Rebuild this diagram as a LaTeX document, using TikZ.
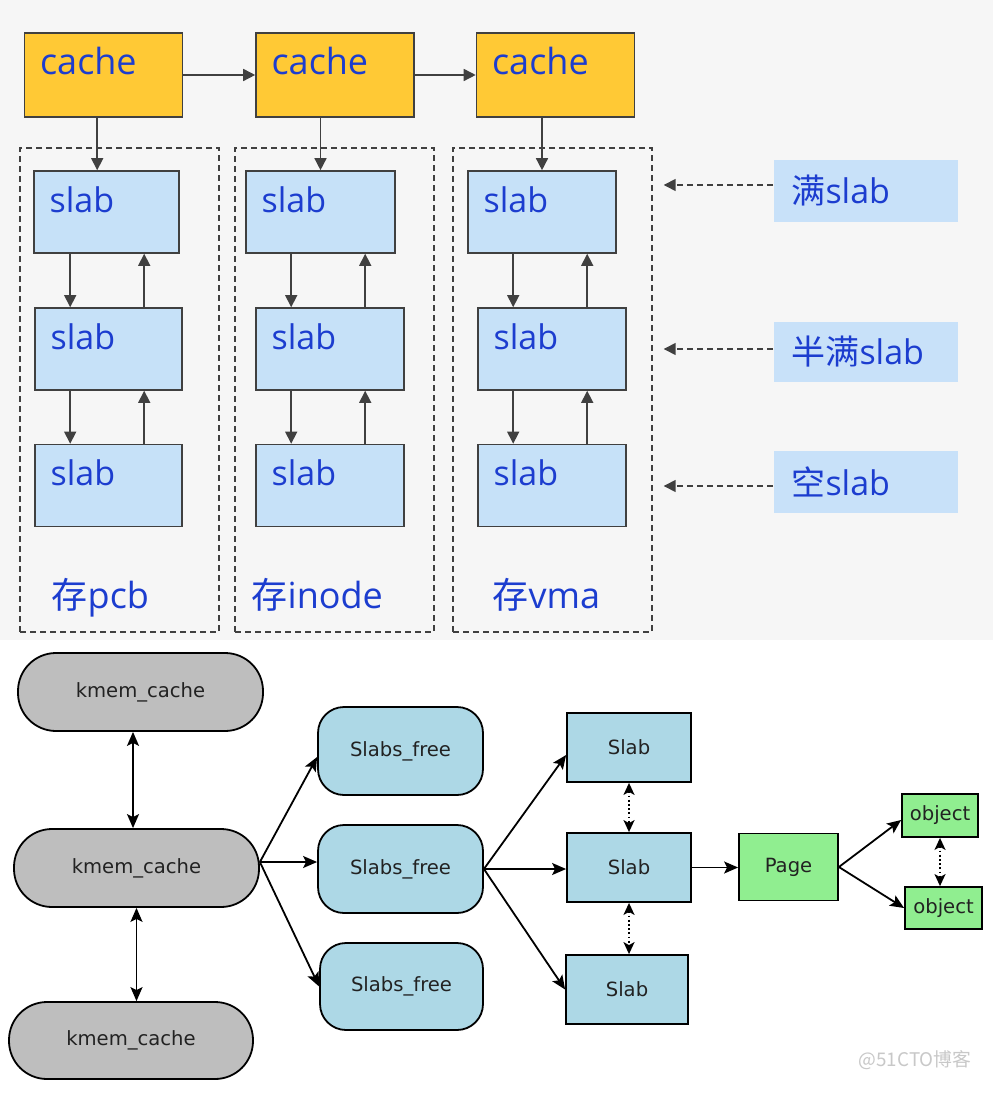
\documentclass[tikz,border=0pt]{standalone}
\usepackage{fontspec}
\setmainfont{Open Sans}
\newfontfamily\cjk{Noto Sans CJK SC}
\newfontfamily\gvf{DejaVu Sans}
\usetikzlibrary{arrows.meta,calc}
\definecolor{cachefill}{HTML}{FFC935}
\definecolor{slabfill}{HTML}{C6E1F8}
\definecolor{tagfill}{HTML}{C8E1F9}
\definecolor{bord}{HTML}{404040}
\definecolor{tblue}{HTML}{1C3DCF}
\definecolor{topbg}{HTML}{F6F6F6}
\definecolor{kfill}{HTML}{BEBEBE}
\definecolor{lblue}{HTML}{ADD8E6}
\definecolor{lgreen}{HTML}{90EE90}
\definecolor{gtext}{HTML}{222222}
\definecolor{wm}{HTML}{C8C8C8}
\newcommand{\bigtxt}{\fontsize{18pt}{21pt}\selectfont}
\newcommand{\slabtxt}{\fontsize{17pt}{20pt}\selectfont}
\newcommand{\gvtxt}{\gvf\fontsize{9.8pt}{11pt}\selectfont}
\begin{document}
\begin{tikzpicture}[x=0.5pt,y=-0.5pt,
  cachebox/.style={draw=bord, line width=0.8pt, fill=cachefill, minimum width=79pt, minimum height=42pt, inner sep=0pt},
  slabbox/.style={draw=bord, line width=0.8pt, fill=slabfill, minimum height=41pt, inner sep=0pt},
  grp/.style={draw=bord, dash pattern=on 3pt off 2pt, line width=0.7pt, inner sep=0pt, minimum width=99.5pt, minimum height=242pt},
  tagbox/.style={fill=tagfill, minimum height=31pt, text width=74pt, align=left, inner xsep=9pt, inner ysep=0pt, font=\slabtxt, text=tblue},
  ctext/.style={anchor=north west, inner sep=0pt, xshift=8pt, yshift=-7.5pt, font=\bigtxt, text=tblue},
  stext/.style={anchor=north west, inner sep=0pt, xshift=8pt, yshift=-8pt, font=\slabtxt, text=tblue},
  toparr/.style={-{Triangle[length=6pt,width=6pt]}, line width=0.75pt, draw=bord},
  dasharr/.style={toparr, dash pattern=on 3pt off 2pt},
  kmem/.style={draw=black, line width=0.9pt, fill=kfill, rounded corners=19pt, minimum width=122.5pt, minimum height=39pt, inner sep=0pt, font=\gvtxt, text=gtext},
  freebox/.style={draw=black, line width=0.9pt, fill=lblue, rounded corners=13pt, minimum width=82.5pt, minimum height=44pt, inner sep=0pt, font=\gvtxt, text=gtext},
  slb/.style={draw=black, line width=0.9pt, fill=lblue, minimum width=62pt, minimum height=34.5pt, inner sep=0pt, font=\gvtxt, text=gtext},
  grn/.style={draw=black, line width=0.9pt, fill=lgreen, inner sep=0pt, font=\gvtxt, text=gtext},
  barr/.style={-{Stealth[length=7pt,width=6pt,inset=1.5pt]}, line width=0.9pt},
  dbl/.style={{Stealth[length=7pt,width=6pt,inset=1.5pt]}-{Stealth[length=7pt,width=6pt,inset=1.5pt]}, line width=0.9pt},
  dotdbl/.style={{Stealth[length=6pt,width=5.5pt,inset=1.5pt]}-{Stealth[length=6pt,width=5.5pt,inset=1.5pt]}, line width=0.9pt, dash pattern=on 0.9pt off 1.2pt}
]
\useasboundingbox (0,0) rectangle (993,1095);
\fill[white] (0,0) rectangle (993,1095);
\fill[topbg] (0,0) rectangle (993,640);

% ---------- top part ----------
\node[cachebox, label={[ctext]north west:cache}] (c1) at (103.5,75) {};
\node[cachebox, label={[ctext]north west:cache}] (c2) at (335,75) {};
\node[cachebox, label={[ctext]north west:cache}] (c3) at (555.5,75) {};

\node[grp, label={[anchor=base west, inner sep=0pt, xshift=16pt, yshift=12pt, font=\bigtxt, text=tblue]south west:{\cjk 存}pcb}] (g1) at (119.5,390) {};
\node[grp, label={[anchor=base west, inner sep=0pt, xshift=8.5pt, yshift=12pt, font=\bigtxt, text=tblue]south west:{\cjk 存}inode}] (g2) at (334.5,390) {};
\node[grp, label={[anchor=base west, inner sep=0pt, xshift=20pt, yshift=12pt, font=\bigtxt, text=tblue]south west:{\cjk 存}vma}] (g3) at (552.5,390) {};

\node[slabbox, minimum width=72.5pt, label={[stext]north west:slab}] (a1) at (106.5,212) {};
\node[slabbox, minimum width=73.5pt, label={[stext]north west:slab}] (a2) at (108.5,349) {};
\node[slabbox, minimum width=73.5pt, label={[stext]north west:slab}] (a3) at (108.5,485.5) {};
\node[slabbox, minimum width=74.5pt, label={[stext]north west:slab}] (b1) at (320.5,212) {};
\node[slabbox, minimum width=74pt, label={[stext]north west:slab}] (b2) at (330,349) {};
\node[slabbox, minimum width=74pt, label={[stext]north west:slab}] (b3) at (330,485.5) {};
\node[slabbox, minimum width=74pt, label={[stext]north west:slab}] (e1) at (542,212) {};
\node[slabbox, minimum width=74pt, label={[stext]north west:slab}] (e2) at (552,349) {};
\node[slabbox, minimum width=74pt, label={[stext]north west:slab}] (e3) at (552,485.5) {};

\node[tagbox] (t1) at (865.5,191) {{\cjk 满}slab};
\node[tagbox, minimum height=30pt] (t2) at (865.5,352) {{\cjk 半满}slab};
\node[tagbox] (t3) at (865.5,482) {{\cjk 空}slab};

% cache chain
\draw[toparr] (c1.east) -- (c2.west);
\draw[toparr] (c2.east) -- (c3.west);
% cache -> first slab
\coordinate (ca1) at ([xshift=32pt]a1.north west);
\draw[toparr] (ca1 |- c1.south) -- (ca1);
\draw[toparr] (b1.north |- c2.south) -- (b1.north);
\draw[toparr] (e1.north |- c3.south) -- (e1.north);
% slab lists
\foreach \col in {a,b,e}{
  \coordinate (\col d) at ([xshift=18pt]\col2.north west);
  \coordinate (\col u) at ([xshift=55pt]\col2.north west);
  \coordinate (\col dd) at ([xshift=18pt]\col3.north west);
  \coordinate (\col uu) at ([xshift=55pt]\col3.north west);
  \draw[toparr] (\col d |- \col1.south) -- (\col d);
  \draw[toparr] (\col u) -- (\col u |- \col1.south);
  \draw[toparr] (\col dd |- \col2.south) -- (\col dd);
  \draw[toparr] (\col uu) -- (\col uu |- \col2.south);
}
% tags
\coordinate (p1) at ([xshift=5.5pt,yshift=3pt]t1.west -| g3.east);
\coordinate (p2) at ([xshift=5.5pt,yshift=1.5pt]t2.west -| g3.east);
\coordinate (p3) at ([xshift=5.5pt,yshift=-2pt]t3.west -| g3.east);
\draw[dasharr] (t1.west |- p1) -- (p1);
\draw[dasharr] (t2.west |- p2) -- (p2);
\draw[dasharr] (t3.west |- p3) -- (p3);

% ---------- bottom part ----------
\node[kmem] (k1) at (140.5,692) {kmem\_cache};
\node[kmem] (k2) at (136.5,868) {kmem\_cache};
\node[kmem, minimum width=122pt, minimum height=38.5pt] (k3) at (131,1040.5) {kmem\_cache};

\node[freebox] (f1) at (400.5,751) {Slabs\_free};
\node[freebox] (f2) at (400.5,869) {Slabs\_free};
\node[freebox, minimum width=81.5pt, minimum height=43.5pt] (f3) at (401.5,986.5) {Slabs\_free};

\node[slb] (s1) at (629,747.5) {Slab};
\node[slb] (s2) at (629,867.5) {Slab};
\node[slb, minimum width=61pt] (s3) at (627,989.5) {Slab};

\node[grn, minimum width=49.5pt, minimum height=33.5pt] (pg) at (788.5,867) {Page};
\node[grn, minimum width=38pt, minimum height=21.5pt] (o1) at (940,815.5) {object};
\node[grn, minimum width=38.5pt, minimum height=21pt] (o2) at (943.5,908) {object};

\coordinate (kx1) at ([xshift=-1.75pt]k2.north);
\draw[dbl] (kx1 |- k1.south) -- (kx1);
\draw[dbl] (k2.south) -- (k2.south |- k3.north);

\coordinate (ko) at ([yshift=3pt]k2.east);
\draw[barr] (ko) -- ([yshift=-3pt]f1.west);
\draw[barr] (ko) -- (f2.west |- ko);
\draw[barr] (ko) -- (f3.west);

\draw[barr] (f2.east) -- ([yshift=-3.75pt]s1.west);
\draw[barr] (f2.east) -- (s2.west |- f2.east);
\draw[barr] (f2.east) -- (s3.west);

\draw[dotdbl] (s1.south) -- (s2.north);
\draw[dotdbl] (s2.south) -- (s2.south |- s3.north);

\draw[barr] (s2.east) -- (pg.west |- s2.east);
\draw[barr] (pg.east) -- ([yshift=-2.25pt]o1.west);
\draw[barr] (pg.east) -- (o2.west);
\draw[dotdbl] (o1.south) -- (o1.south |- o2.north);

\node[font=\cjk\fontsize{9.4pt}{11pt}\selectfont, text=wm, inner sep=0pt] (wmk) at (915,1060) {@51CTO博客};
\end{tikzpicture}
\end{document}
